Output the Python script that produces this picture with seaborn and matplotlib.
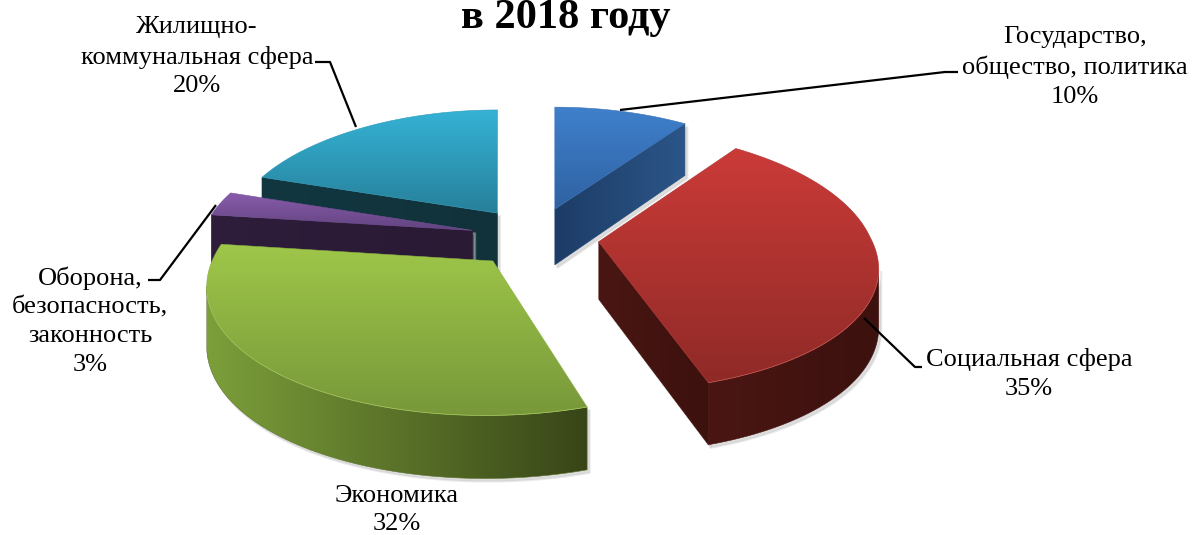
import numpy as np
import matplotlib
matplotlib.use('Agg')
import matplotlib.pyplot as plt
from matplotlib.patches import Polygon
import seaborn as sns

# данные
categories = ['Государство,\nобщество, политика', 'Социальная сфера', 'Экономика',
              'Оборона,\nбезопасность,\nзаконность', 'Жилищно-\nкоммунальная сфера']
shares = [10, 35, 32, 3, 20]
title_text = 'в 2018 году'

top_colors = [('#3F80CC', '#2F62A2'), ('#CB3B38', '#8F2A27'), ('#9FC749', '#78983A'),
              ('#8A5CAD', '#624480'), ('#35B3D6', '#27809A')]
side_colors = [('#1D3C66', '#2B5688'), ('#4A1613', '#3C110E'), ('#7C9F3A', '#384518'),
               ('#2E1D3B', '#2A1A34'), ('#123740', '#11323B')]

# геометрия: наклонный диск с перспективой, в пикселях картинки
CX, CY = 535, 237
RX, RY = 272, 129
PERSP_X = 0.18
PERSP_Y = 0.145
EXPLODE = 0.235
DEPTH = 57

sns.set_theme(style='white')
plt.rcParams['font.family'] = ['Liberation Serif', 'DejaVu Serif']


def project(ox, oy, dx, dy):
    y = oy + dy
    k = 1 - PERSP_X * y
    # смещение дольки сужается только спереди, задние края остаются вертикальными
    k_off = 1 - PERSP_X * np.minimum(y, 0)
    return CX + RX * (ox * k_off + dx * k), CY - RY * y * (1 - PERSP_Y * y)


def depth(y):
    return DEPTH * (1 - 0.09 * y)


def above_line(a, b, p):
    # лежит ли точка p выше прямой ab на экране
    if abs(b[0] - a[0]) < 1e-6:
        return False
    line_y = a[1] + (b[1] - a[1]) * (p[0] - a[0]) / (b[0] - a[0])
    return p[1] < line_y


def fill_gradient(ax, pts, colors, horizontal, zorder):
    cmap = sns.blend_palette(colors, as_cmap=True)
    pts = np.array(pts)
    x0, y0 = pts.min(axis=0)
    x1, y1 = pts.max(axis=0)
    grad = np.linspace(0, 1, 256)
    grad = grad[None, :] if horizontal else grad[:, None]
    im = ax.imshow(grad, cmap=cmap, extent=(x0, x1, y1, y0), aspect='auto', zorder=zorder, vmin=0, vmax=1)
    clip = Polygon(pts, closed=True, transform=ax.transData, fc='none', ec='none')
    ax.add_patch(clip)
    im.set_clip_path(clip)
    ax.add_patch(Polygon(pts, closed=True, fc='none', ec=cmap(0.5), lw=0.4, zorder=zorder))


def draw_slice(ax, start, end, top_c, side_c, zorder):
    mid = (start + end) / 2
    ox = EXPLODE * np.sin(mid)
    oy = EXPLODE * np.cos(mid)
    ang = np.linspace(start, end, 80)
    dx = np.sin(ang)
    dy = np.cos(ang)

    apex = project(ox, oy, 0, 0)
    rim = np.column_stack(project(ox, oy, dx, dy))
    down = np.column_stack([rim[:, 0], rim[:, 1] + depth(oy + dy)])
    apex_down = (apex[0], apex[1] + depth(oy))
    top = np.vstack([[apex], rim])
    inner = project(ox, oy, 0.6 * np.sin(mid), 0.6 * np.cos(mid))

    faces = []
    # боковые грани разреза
    for idx in (0, -1):
        if above_line(apex, rim[idx], inner):
            faces.append([apex, rim[idx], down[idx], apex_down])
    # внешняя дуга, только видимая часть
    seen = [above_line(rim[i], rim[i + 1], apex) for i in range(len(rim) - 1)]
    idx = np.where(seen)[0]
    if len(idx):
        i0, i1 = idx[0], idx[-1] + 1
        faces.append(np.vstack([rim[i0:i1 + 1], down[i0:i1 + 1][::-1]]))

    for face in faces:
        face = np.array(face)
        ax.add_patch(Polygon(face + [2.5, 3], closed=True, fc='#aaaaaa', ec='#cccccc',
                             alpha=0.4, lw=1.5, zorder=zorder))
    for face in faces:
        fill_gradient(ax, face, side_c, True, zorder + 0.1)
    fill_gradient(ax, top, top_c, False, zorder + 0.2)

    if len(idx):
        light = sns.set_hls_values(top_c[0], l=0.62)
        ax.plot(rim[i0:i1 + 1, 0], rim[i0:i1 + 1, 1], color=light, lw=0.6, alpha=0.6, zorder=zorder + 0.3)


fig = plt.figure(figsize=(11.93, 5.35), dpi=100)
ax = fig.add_axes([0, 0, 1, 1])

edges = np.cumsum([0] + shares) / sum(shares) * 2 * np.pi
order = [4, 0, 3, 2, 1]
for z, i in enumerate(order):
    draw_slice(ax, edges[i], edges[i + 1], top_colors[i], side_colors[i], 2 + z)

# подписи
label_pos = [(1075, 67), (1029, 374), (397, 510), (90, 321), (197, 57)]
leaders = [[(620, 110), (945, 72), (958, 72)],
           [(864, 318), (915, 367), (922, 367)],
           None,
           [(216, 205), (160, 280), (148, 280)],
           [(356, 127), (330, 62), (315, 62)]]
for name, value, pos, line in zip(categories, shares, label_pos, leaders):
    ax.text(pos[0], pos[1], f'{name}\n{value}%', ha='center', va='center', fontsize=19,
            linespacing=1.4, color='black', zorder=20)
    if line:
        xs, ys = zip(*line)
        ax.plot(xs, ys, color='black', lw=1.6, zorder=19, solid_capstyle='butt')

ax.text(566, 28, title_text, ha='center', va='baseline', fontsize=30.5, fontweight='bold',
        color='black', zorder=20)

ax.set_xlim(0, 1193)
ax.set_ylim(535, 0)
ax.axis('off')
fig.savefig('out.png', dpi=100)
